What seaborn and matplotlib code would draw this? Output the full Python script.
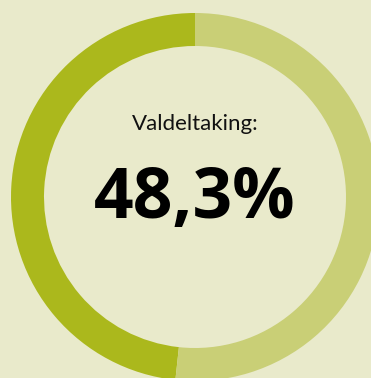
import matplotlib
matplotlib.use("Agg")
import matplotlib.pyplot as plt
import seaborn as sns

# Turnout figures
labels = ["Deltok", "Deltok ikkje"]
shares = [48.3, 51.7]
caption = "Valdeltaking:"
value_text = "48,3%"

sns.set_theme(style="white")
plt.rcParams["font.family"] = ["Lato", "DejaVu Sans"]

bg = "#e9eacb"
colors = ["#abb81c", "#c9cf76"]

W, H = 371, 378
fig = plt.figure(figsize=(W / 100, H / 100), dpi=100, facecolor=bg)
ax = fig.add_axes([0, 0, 1, 1])
ax.set_facecolor(bg)

# Ring centred at pixel (195, 197); one data unit = one pixel
cx, cy = 195, 197
ax.pie(shares, labels=None, colors=colors, startangle=90, counterclock=True,
       radius=184, wedgeprops=dict(width=33, linewidth=0), center=(0, 0))
ax.set_xlim(-cx, W - cx)
ax.set_ylim(-(H - cy), cy)
ax.set_aspect("equal")
ax.axis("off")

ax.text(0, 73, caption, ha="center", va="center", fontsize=16, color="#111111")
ax.text(0, -3, value_text, ha="center", va="center", fontsize=50,
        fontweight="bold", color="#000000", family=["Open Sans", "DejaVu Sans"])

fig.savefig("out.png", dpi=100, facecolor=bg)
